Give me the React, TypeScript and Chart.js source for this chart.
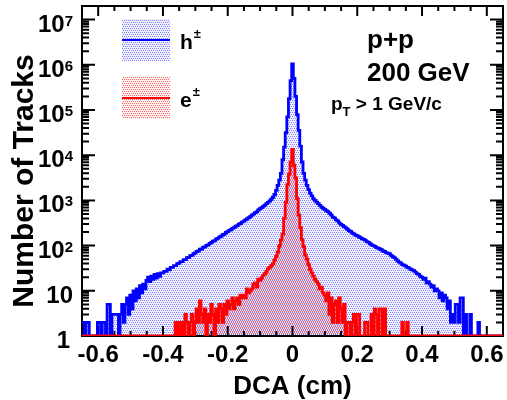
import React, { useEffect, useRef } from "react";
import { Chart, registerables } from "chart.js";

Chart.register(...registerables);

// ---------------- data ----------------
const BIN_WIDTH = 0.005;
const FIRST_BIN_CENTER = -0.65;
const X_MIN = -0.65;
const X_MAX = 0.65;
const Y_MIN = 1;
const Y_MAX = 2e7;

// h± counts per DCA bin (bin centres from -0.65 to +0.65 in steps of 0.005)
const hadronCounts = [
  2, 2, 0, 2, 2, 0, 0, 1, 0, 0,
  2, 2, 1, 2, 2, 0, 5, 5, 0, 3,
  3, 3, 3, 1, 3, 5, 2, 5, 7, 3,
  8, 4, 10, 6, 11, 7, 13, 9, 14, 11,
  17, 20, 16, 21, 18, 23, 19, 24, 21, 25,
  25, 27, 27, 30, 29, 33, 33, 36, 36, 40,
  41, 44, 44, 49, 49, 54, 55, 60, 61, 66,
  69, 74, 76, 83, 84, 92, 94, 101, 104, 112,
  117, 125, 129, 140, 144, 156, 161, 174, 180, 195,
  204, 218, 224, 241, 250, 268, 277, 298, 308, 331,
  347, 372, 388, 415, 436, 470, 497, 535, 560, 614,
  660, 690, 741, 790, 851, 900, 977, 1060, 1175, 1350,
  1660, 2140, 2820, 3980, 7940, 15100, 31600, 70800, 178000, 447000,
  1050000,
  500000, 200000, 79400, 35500, 15800, 7080, 3980, 2820, 2140, 1740,
  1450, 1260, 1100, 1000, 920, 851, 780, 708, 670, 631,
  590, 565, 520, 480, 427, 410, 372, 352, 318, 295,
  280, 262, 246, 230, 214, 205, 190, 182, 171, 166,
  157, 150, 142, 138, 132, 122, 118, 110, 104, 100,
  96, 90, 88, 84, 81, 76, 74, 70, 68, 66,
  61, 57, 54, 50, 46, 43, 41, 38, 37, 35,
  33, 32, 30, 29, 28, 26, 24, 23, 21, 20,
  18, 19, 15, 16, 14, 12, 13, 10, 11, 10,
  7, 9, 6, 8, 7, 4, 6, 2, 3, 2,
  5, 5, 2, 7, 7, 1, 3, 0, 1, 3,
  0, 0, 1, 0, 2, 0, 0, 0, 0, 0,
  0, 0, 0, 0, 0, 0, 0, 0, 0, 0,
];

// e± counts per DCA bin (same binning)
const electronCounts = [
  0, 0, 0, 0, 0, 0, 0, 0, 0, 0,
  0, 0, 0, 0, 0, 0, 0, 0, 0, 0,
  0, 0, 0, 0, 0, 0, 0, 0, 0, 0,
  0, 0, 0, 0, 0, 0, 0, 0, 0, 0,
  0, 0, 0, 0, 0, 0, 0, 0, 0, 0,
  0, 0, 0, 0, 0, 0, 0, 0, 2, 0,
  2, 0, 2, 0, 3, 2, 0, 2, 3, 0,
  2, 4, 2, 6, 3, 2, 4, 0, 3, 2,
  5, 3, 1, 4, 2, 5, 4, 2, 5, 3,
  6, 4, 5, 7, 4, 6, 7, 5, 8, 7,
  8, 7, 11, 9, 10, 11, 14, 15, 12, 18,
  17, 19, 22, 24, 27, 31, 33, 36, 40, 48,
  58, 72, 98, 132, 180, 400, 900, 2240, 3800, 7000,
  13500,
  6000, 3160, 1100, 470, 250, 135, 95, 62, 50, 38,
  30, 25, 21, 18, 16, 14, 11, 12, 9, 8,
  6, 9, 3, 7, 2, 5, 6, 2, 7, 4,
  2, 5, 1, 2, 2, 0, 2, 3, 0, 3,
  3, 0, 0, 0, 2, 2, 0, 0, 3, 0,
  4, 3, 0, 4, 4, 0, 4, 0, 0, 0,
  0, 0, 0, 0, 0, 0, 0, 2, 0, 0,
  2, 0, 0, 0, 0, 0, 0, 0, 0, 0,
  0, 0, 0, 0, 0, 0, 0, 0, 0, 0,
  0, 0, 0, 0, 0, 0, 0, 0, 0, 0,
  0, 0, 0, 0, 0, 0, 0, 0, 0, 0,
  0, 0, 0, 0, 0, 0, 0, 0, 0, 0,
  0, 0, 0, 0, 0, 0, 0, 0, 0, 0,
];

const seriesNames = ["h", "e"];
const chargeSuffix = "\u00b1";
const xTickValues = [-0.6, -0.4, -0.2, 0, 0.2, 0.4, 0.6];
const xTickLabels = ["-0.6", "-0.4", "-0.2", "0", "0.2", "0.4", "0.6"];
const yDecadeExponents = [0, 1, 2, 3, 4, 5, 6, 7];
const xTitle = "DCA (cm)";
const yTitle = "Number of Tracks";
const annotationLines = ["p+p", "200 GeV"];
const cutText = { main: "p", sub: "T", rest: " > 1 GeV/c" };

const BLUE = "#0000ff";
const RED = "#ff0000";
const FAMILY = '"Liberation Sans", Arial, Helvetica, sans-serif';
const bold = (s: number) => `bold ${s}px ${FAMILY}`;

function makePattern(
  base: string,
  dot: string,
  dots: number[][]
): CanvasPattern | string {
  const tile = document.createElement("canvas");
  tile.width = 4;
  tile.height = 4;
  const t = tile.getContext("2d");
  if (!t) return base;
  t.fillStyle = base;
  t.fillRect(0, 0, 4, 4);
  t.fillStyle = dot;
  dots.forEach(([px, py]) => t.fillRect(px, py, 1, 1));
  return t.createPattern(tile, "repeat") || base;
}

export default function App() {
  const canvasRef = useRef<HTMLCanvasElement | null>(null);

  useEffect(() => {
    const canvas = canvasRef.current;
    if (!canvas) return;
    const bluePattern = makePattern("rgb(240,240,255)", "rgb(130,130,255)", [
      [0, 0], [2, 0], [1, 2], [3, 2],
    ]);
    const redPattern = makePattern("rgba(255,0,0,0.05)", "rgba(255,0,0,0.6)", [
      [1, 1], [3, 1], [0, 3], [2, 3],
    ]);

    // empty bins sit on the lower edge of the log axis, as in the original plot
    const toPoints = (counts: number[]) =>
      counts.map((c, i) => ({ x: FIRST_BIN_CENTER + i * BIN_WIDTH, y: Math.max(c, Y_MIN) }));

    const rootPlugin = {
      id: "rootStyle",
      beforeDatasetsDraw(chart: any) {
        const { ctx, chartArea: a } = chart;
        const xs = chart.scales.x;
        const ys = chart.scales.y;
        ctx.save();
        ctx.strokeStyle = "#000";
        ctx.lineWidth = 2;
        ctx.beginPath();
        ctx.rect(a.left, a.top, a.right - a.left, a.bottom - a.top);
        ctx.stroke();
        ctx.beginPath();
        for (let i = -12; i <= 12; i++) {
          const v = i * 0.05;
          const len = i % 4 === 0 ? 10 : 5;
          const px = xs.getPixelForValue(v);
          ctx.moveTo(px, a.bottom);
          ctx.lineTo(px, a.bottom - len);
          ctx.moveTo(px, a.top);
          ctx.lineTo(px, a.top + len);
        }
        for (const k of yDecadeExponents) {
          for (let m = 1; m <= 9; m++) {
            const v = m * Math.pow(10, k);
            if (v >= Y_MAX) break;
            if (v <= Y_MIN) continue;
            const py = ys.getPixelForValue(v);
            const len = m === 1 ? 13 : 7;
            ctx.moveTo(a.left, py);
            ctx.lineTo(a.left + len, py);
            ctx.moveTo(a.right, py);
            ctx.lineTo(a.right - len, py);
          }
        }
        ctx.stroke();
        ctx.restore();
      },
      afterDraw(chart: any) {
        const { ctx, chartArea: a } = chart;
        const xs = chart.scales.x;
        const ys = chart.scales.y;
        ctx.save();
        ctx.fillStyle = "#000";
        ctx.textBaseline = "alphabetic";

        // x tick labels
        ctx.font = bold(24);
        ctx.textAlign = "center";
        xTickValues.forEach((v, i) => {
          ctx.fillText(xTickLabels[i], xs.getPixelForValue(v), a.bottom + 26);
        });

        // y tick labels
        const labelRight = a.left - 9;
        yDecadeExponents.forEach((k) => {
          const py = ys.getPixelForValue(Math.pow(10, k));
          ctx.textAlign = "right";
          if (k === 0) {
            ctx.font = bold(24);
            ctx.fillText("1", labelRight - 3, py + 12);
          } else if (k === 1) {
            ctx.font = bold(24);
            ctx.fillText("10", labelRight, py + 12);
          } else {
            ctx.font = bold(15);
            const sup = String(k);
            const w = ctx.measureText(sup).width;
            ctx.fillText(sup, labelRight, py + 6);
            ctx.font = bold(24);
            ctx.fillText("10", labelRight - w, py + 12);
          }
        });

        // axis titles
        ctx.font = bold(26);
        ctx.textAlign = "center";
        ctx.fillText(xTitle, (a.left + a.right) / 2, 394);
        ctx.save();
        ctx.translate(33, (a.top + a.bottom) / 2 + 10);
        ctx.rotate(-Math.PI / 2);
        ctx.font = bold(30);
        ctx.fillText(yTitle, 0, 0);
        ctx.restore();

        // legend
        const colors = [BLUE, RED];
        const boxTops = [a.top + 13, a.top + 71];
        seriesNames.forEach((name, i) => {
          const bx = a.left + 40;
          const by = boxTops[i];
          ctx.fillStyle = i === 0 ? bluePattern : redPattern;
          ctx.fillRect(bx, by, 48, 42);
          ctx.strokeStyle = colors[i];
          ctx.lineWidth = 2;
          ctx.beginPath();
          ctx.moveTo(bx, by + 21);
          ctx.lineTo(bx + 48, by + 21);
          ctx.stroke();
          ctx.fillStyle = "#000";
          ctx.textAlign = "left";
          ctx.font = bold(21);
          ctx.fillText(name, bx + 58, by + 30);
          const w = ctx.measureText(name).width;
          ctx.font = bold(13);
          ctx.fillText(chargeSuffix, bx + 58 + w + 1, by + 19);
        });

        // annotations
        ctx.fillStyle = "#000";
        ctx.textAlign = "left";
        ctx.font = bold(26);
        ctx.fillText(annotationLines[0], 367, 48);
        ctx.fillText(annotationLines[1], 367, 81);
        ctx.font = bold(19);
        ctx.fillText(cutText.main, 331, 110);
        const pw = ctx.measureText(cutText.main).width;
        ctx.font = bold(13);
        ctx.fillText(cutText.sub, 331 + pw, 116);
        const tw = ctx.measureText(cutText.sub).width;
        ctx.font = bold(19);
        ctx.fillText(cutText.rest, 331 + pw + tw, 110);
        ctx.restore();
      },
    };

    const chart = new Chart(canvas, {
      type: "line",
      data: {
        datasets: [
          {
            label: seriesNames[1] + chargeSuffix,
            data: toPoints(electronCounts),
            borderColor: RED,
            backgroundColor: redPattern as any,
            fill: "start",
            stepped: "middle",
            borderWidth: 2.8,
            pointRadius: 0,
            order: 0,
          },
          {
            label: seriesNames[0] + chargeSuffix,
            data: toPoints(hadronCounts),
            borderColor: BLUE,
            backgroundColor: bluePattern as any,
            fill: "start",
            stepped: "middle",
            borderWidth: 2.8,
            pointRadius: 0,
            order: 1,
          },
        ],
      },
      options: {
        animation: false,
        responsive: false,
        devicePixelRatio: 1,
        layout: { padding: { top: 6, right: 4, left: 0, bottom: 0 } },
        plugins: {
          legend: { display: false },
          tooltip: { enabled: false },
          filler: { drawTime: "beforeDatasetsDraw" },
        },
        scales: {
          x: {
            type: "linear",
            min: X_MIN,
            max: X_MAX,
            grid: { display: false },
            border: { display: false },
            ticks: { display: false },
            afterFit: (s: any) => {
              s.height = 64;
            },
          },
          y: {
            type: "logarithmic",
            min: Y_MIN,
            max: Y_MAX,
            grid: { display: false },
            border: { display: false },
            ticks: { display: false },
            afterFit: (s: any) => {
              s.width = 82;
            },
          },
        },
      },
      plugins: [rootPlugin],
    } as any);

    return () => chart.destroy();
  }, []);

  return (
    <canvas
      ref={canvasRef}
      width={507}
      height={400}
      style={{ position: "fixed", left: 0, top: 0, width: 507, height: 400 }}
    />
  );
}
